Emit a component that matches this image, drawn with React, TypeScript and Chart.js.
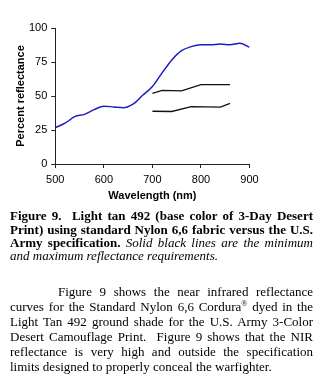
import React, { useEffect, useRef } from "react";
import { Chart, registerables } from "chart.js";

Chart.register(...registerables);

const wavelengths = [500, 520, 540, 560, 580, 600, 620, 640, 660, 680, 700, 720, 740, 760, 780, 800, 820, 840, 860, 880, 900];
const reflectance = [26.7, 30, 34.8, 36.5, 40, 42.5, 42, 41.4, 44, 50.5, 57, 67, 76.5, 83.3, 86.3, 87.7, 87.7, 88.2, 87.7, 88.7, 85.8];

const maxSpecWavelengths = [700, 720, 760, 800, 860];
const maxSpecValues = [52, 54.2, 53.8, 58.4, 58.4];

const minSpecWavelengths = [700, 740, 780, 840, 860];
const minSpecValues = [38.8, 38.6, 42.2, 41.8, 44.5];

const xTicks = [500, 600, 700, 800, 900];
const yTicks = [0, 25, 50, 75, 100];

const xTitle = "Wavelength (nm)";
const yTitle = "Percent reflectance";

const toPoints = (xs: number[], ys: number[]) => xs.map((x, i) => ({ x, y: ys[i] }));

const captionBold = [
  "Figure 9.\u00a0 Light tan 492 (base color of 3-Day Desert",
  "Print) using standard Nylon 6,6 fabric versus the U.S.",
];
const captionLine3Bold = "Army specification.";
const captionLine3Italic = " Solid black lines are the minimum";
const captionLine4 = "and maximum reflectance requirements.";

const paragraph = [
  "Figure 9 shows the near infrared reflectance",
  "curves for the Standard Nylon 6,6 Cordura",
  "Light Tan 492 ground shade for the U.S. Army 3-Color",
  "Desert Camouflage Print.\u00a0 Figure 9 shows that the NIR",
  "reflectance is very high and outside the specification",
  "limits designed to properly conceal the warfighter.",
];
const paragraphLine2Tail = " dyed in the";

export default function App() {
  const ref = useRef<HTMLCanvasElement | null>(null);

  useEffect(() => {
    if (!ref.current) return;
    const axisColor = "#222";
    const chart = new Chart(ref.current, {
      type: "line",
      data: {
        datasets: [
          {
            data: toPoints(wavelengths, reflectance),
            borderColor: "#1c1cc4",
            borderWidth: 1.5,
            pointRadius: 0,
            cubicInterpolationMode: "monotone",
            fill: false,
          },
          {
            data: toPoints(maxSpecWavelengths, maxSpecValues),
            borderColor: "#111",
            borderWidth: 1.3,
            pointRadius: 0,
            tension: 0,
            fill: false,
          },
          {
            data: toPoints(minSpecWavelengths, minSpecValues),
            borderColor: "#111",
            borderWidth: 1.3,
            pointRadius: 0,
            tension: 0,
            fill: false,
          },
        ],
      },
      options: {
        animation: false,
        responsive: false,
        events: [],
        layout: { padding: { top: 28, left: 0, right: 20.5, bottom: 3 } },
        plugins: { legend: { display: false }, tooltip: { enabled: false } },
        scales: {
          x: {
            type: "linear",
            min: 500,
            max: 900,
            afterFit: (s: any) => {
              s.height = 43;
            },
            afterBuildTicks: (s: any) => {
              s.ticks = xTicks.map((v) => ({ value: v }));
            },
            border: { display: true, color: axisColor, width: 1 },
            grid: { drawOnChartArea: false, drawTicks: true, tickLength: 4, color: axisColor },
            ticks: { color: "#000", padding: 5, font: { family: "Liberation Sans, Arial", size: 11 } },
            title: {
              display: true,
              text: xTitle,
              color: "#000",
              padding: { top: 4, bottom: 4 },
              font: { family: "Liberation Sans, Arial", size: 11, weight: "bold" },
            },
          },
          y: {
            type: "linear",
            min: 0,
            max: 100,
            afterFit: (s: any) => {
              s.width = 55.3;
            },
            afterBuildTicks: (s: any) => {
              s.ticks = yTicks.map((v) => ({ value: v }));
            },
            border: { display: true, color: axisColor, width: 1 },
            grid: { drawOnChartArea: false, drawTicks: true, tickLength: 4, color: axisColor },
            ticks: { color: "#000", padding: 4, font: { family: "Liberation Sans, Arial", size: 11 } },
            title: {
              display: true,
              text: yTitle,
              color: "#000",
              padding: { top: 14, bottom: 0 },
              font: { family: "Liberation Sans, Arial", size: 11, weight: "bold" },
            },
          },
        },
      },
    });
    return () => chart.destroy();
  }, []);

  const serif = "'Liberation Serif', 'Times New Roman', serif";
  const justified: React.CSSProperties = {
    position: "absolute",
    left: 10,
    width: 303,
    textAlign: "justify",
    textAlignLast: "justify",
    whiteSpace: "normal",
  };

  return (
    <div style={{ position: "absolute", left: 0, top: 0, width: 323, height: 383, background: "#fff", color: "#000", fontFamily: serif, overflow: "hidden" }}>
      <canvas ref={ref} width={270} height={210} style={{ position: "absolute", left: 0, top: 0 }} />
      <div style={{ fontSize: 13, lineHeight: "13.3px" }}>
        {captionBold.map((t, i) => (
          <div key={i} style={{ ...justified, top: 209.2 + i * 13.3, fontWeight: "bold" }}>
            {t}
          </div>
        ))}
        <div style={{ ...justified, top: 209.2 + 2 * 13.3 }}>
          <b>{captionLine3Bold}</b>
          <i>{captionLine3Italic}</i>
        </div>
        <div style={{ position: "absolute", left: 10, top: 209.2 + 3 * 13.3, fontStyle: "italic", whiteSpace: "nowrap" }}>
          {captionLine4}
        </div>
      </div>
      <div style={{ fontSize: 13, lineHeight: "15px" }}>
        {paragraph.map((t, i) => {
          const last = i === paragraph.length - 1;
          const style: React.CSSProperties = last
            ? { position: "absolute", left: 10, top: 284.3 + i * 15, whiteSpace: "nowrap" }
            : i === 0
            ? { ...justified, left: 58, width: 255, top: 284.3 + i * 15 }
            : { ...justified, top: 284.3 + i * 15 };
          return (
            <div key={i} style={style}>
              {t}
              {i === 1 ? (
                <>
                  <sup style={{ fontSize: 8, lineHeight: 0 }}>®</sup>
                  {paragraphLine2Tail}
                </>
              ) : null}
            </div>
          );
        })}
      </div>
    </div>
  );
}
